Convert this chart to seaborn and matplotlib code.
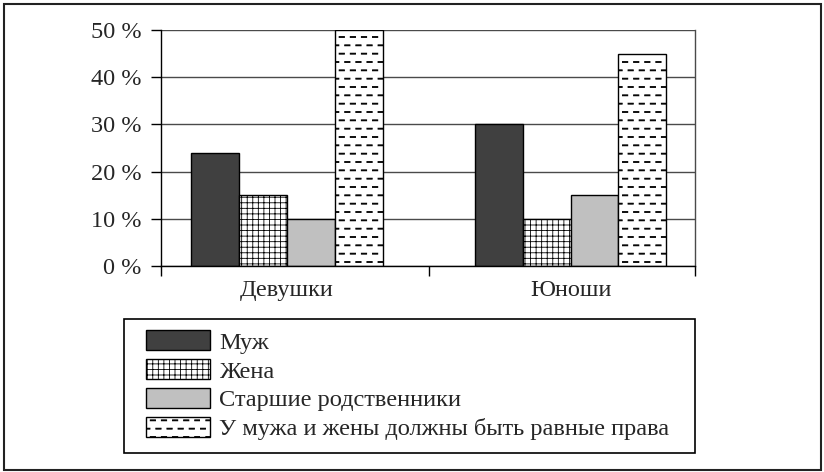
import numpy as np
import pandas as pd
import matplotlib
matplotlib.use("Agg")
import matplotlib.pyplot as plt
import seaborn as sns
from matplotlib import hatch as mhatch
from matplotlib.path import Path
from matplotlib.patches import Patch, Rectangle


groups = ["Девушки", "Юноши"]
answers = ["Муж", "Жена", "Старшие родственники",
           "У мужа и жены должны быть равные права"]
values_girls = [24, 15, 10, 50]
values_boys = [30, 10, 15, 45]
yticks = [0, 10, 20, 30, 40, 50]
ytick_labels = ["0 %", "10 %", "20 %", "30 %", "40 %", "50 %"]

face_colors = ["#404040", "white", "#c0c0c0", "white"]
hatches = [None, "+++", None, "O"]

FS = 17.5


# ── dashed hatch (staggered short dashes), mapped onto the 'O' character ──
class DashHatch(mhatch.HatchPatternBase):
    rows, cols = 12, 9

    def __init__(self, hatch, density):
        self.on = "O" in hatch
        self.num_vertices = self.rows * self.cols * 5 if self.on else 0

    def set_vertices_and_codes(self, vertices, codes):
        dash = 0.48 / self.cols
        thick = 0.01
        i = 0
        for r in range(self.rows):
            y = (r + 0.5) / self.rows
            shift = 0.0 if r % 2 == 0 else 0.5
            for c in range(self.cols):
                x0 = (c + shift + 0.02) / self.cols
                x1 = x0 + dash
                vertices[i:i + 5] = [(x0, y), (x1, y), (x1, y + thick),
                                     (x0, y + thick), (x0, y)]
                codes[i:i + 5] = [Path.MOVETO, Path.LINETO, Path.LINETO,
                                  Path.LINETO, Path.CLOSEPOLY]
                i += 5


mhatch._hatch_types = [h for h in mhatch._hatch_types
                       if h is not mhatch.LargeCircles] + [DashHatch]

df = pd.DataFrame({
    "group": np.repeat(groups, len(answers)),
    "answer": answers * len(groups),
    "value": values_girls + values_boys,
})

sns.set_style("white")
plt.rcParams["font.family"] = ["Liberation Serif", "DejaVu Serif"]
plt.rcParams["hatch.linewidth"] = 0.6
plt.rcParams["hatch.color"] = "black"

fig = plt.figure(figsize=(8.24, 4.72), dpi=100)
ax = fig.add_axes([161 / 824, 1 - 266 / 472, 534 / 824, 236 / 472])

sns.barplot(data=df, x="group", y="value", hue="answer",
            order=groups, hue_order=answers,
            palette=face_colors, width=0.675, gap=0,
            edgecolor="black", linewidth=1.0, saturation=1,
            legend=False, ax=ax)

for container, h in zip(ax.containers, hatches):
    for bar in container:
        if h:
            bar.set_hatch(h)

ax.set_ylim(0, 50)
ax.set_xlim(-0.444, 1.439)
ax.set_yticks(yticks)
ax.set_yticklabels(ytick_labels, fontsize=FS)
ax.yaxis.grid(True, color="#4a4a4a", linewidth=1.0)
ax.set_axisbelow(True)
ax.set_xlabel("")
ax.set_ylabel("")

ax.set_xticks([0, 1])
ax.set_xticklabels(groups, fontsize=FS)
ax.set_xticks([-0.444, 0.5, 1.439], minor=True)
ax.tick_params(axis="x", which="major", length=0, pad=10)
ax.tick_params(axis="x", which="minor", length=7, width=1, direction="out",
               color="black", bottom=True)
ax.tick_params(axis="y", length=7, width=1, direction="out", color="black",
               left=True, pad=7)

for side in ["left", "bottom"]:
    ax.spines[side].set_color("black")
    ax.spines[side].set_linewidth(1.0)
ax.spines["top"].set_visible(False)
ax.spines["right"].set_color("#4a4a4a")
ax.spines["right"].set_linewidth(1.0)

# legend: frame drawn separately so the padding can match the reference
handles = [Patch(facecolor=fc, edgecolor="black", hatch=h, linewidth=1.0)
           for fc, h in zip(face_colors, hatches)]
fig.legend(handles, answers, loc="upper left",
           bbox_to_anchor=(146 / 824, 1 - 330 / 472),
           fontsize=17.6, frameon=False,
           handlelength=2.6, handleheight=0.9, handletextpad=0.4,
           labelspacing=0.22, borderpad=0, borderaxespad=0)
fig.patches.append(Rectangle((124 / 824, 1 - 453 / 472), 571 / 824, 134 / 472,
                             transform=fig.transFigure, fill=False,
                             edgecolor="black", linewidth=1.2))

fig.patches.append(Rectangle((4 / 824, 2 / 472), 817 / 824, 466 / 472,
                             transform=fig.transFigure, fill=False,
                             edgecolor="#222222", linewidth=1.5))

fig.savefig("out.png", dpi=100)
